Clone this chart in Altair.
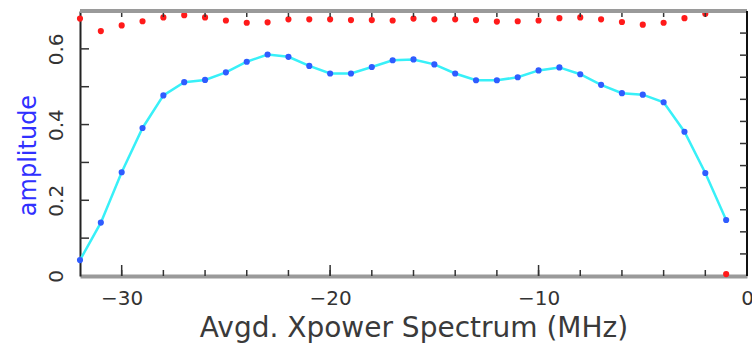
import altair as alt
import pandas as pd

freq = list(range(-32, 0))
amp = [0.042, 0.141, 0.274, 0.391, 0.477, 0.512, 0.518, 0.538, 0.566, 0.585,
       0.579, 0.555, 0.535, 0.535, 0.552, 0.570, 0.572, 0.559, 0.535, 0.517,
       0.517, 0.525, 0.543, 0.551, 0.533, 0.505, 0.483, 0.479, 0.459, 0.381,
       0.272, 0.148]
red = [0.680, 0.647, 0.662, 0.673, 0.683, 0.689, 0.683, 0.675, 0.669, 0.670,
       0.678, 0.678, 0.678, 0.676, 0.676, 0.675, 0.680, 0.678, 0.678, 0.676,
       0.672, 0.673, 0.675, 0.681, 0.683, 0.678, 0.671, 0.664, 0.669, 0.681,
       0.693, 0.005]

x_labels = [-30, -20, -10, 0]
x_minor = [-30, -28, -26, -24, -22, -20, -18, -16, -14, -12, -10, -8, -6, -4, -2]
x_major = [-30, -20, -10]
y_labels = [0, 0.2, 0.4, 0.6]
y_minor = [0.1, 0.2, 0.3, 0.4, 0.5, 0.6]
phase_ticks = [-150, -120, -90, -60, -30, 0, 30, 60, 90, 120, 150]

W, H = 667, 265
FONT = "DejaVu Sans"

df = pd.DataFrame({"freq": freq, "amp": amp, "red": red})
xscale = alt.Scale(domain=[-32, 0], nice=False, zero=False)
yscale = alt.Scale(domain=[0, 0.7], nice=False, zero=False)

xaxis = alt.Axis(values=x_labels, ticks=False, grid=False, domain=True,
                 domainColor="#9a9a9a", domainWidth=4, labelFontSize=20,
                 labelColor="#333333", labelPadding=12, labelFont=FONT,
                 title="Avgd. Xpower Spectrum (MHz)", titleFont=FONT,
                 titleFontSize=28, titleFontWeight="normal", titleColor="#3a3a3a",
                 titlePadding=6, labelFlush=False, format="d")
yaxis = alt.Axis(values=y_labels, ticks=False, grid=False, domain=True,
                 domainColor="#222222", domainWidth=2, labelFontSize=20,
                 labelColor="#333333", labelPadding=14, labelAngle=270,
                 labelAlign="center", labelBaseline="bottom", labelFont=FONT,
                 title="amplitude", titleFont=FONT, titleFontSize=24,
                 titleFontWeight="normal", titleColor="#3030ff", titlePadding=6,
                 titleY=144,
                 labelFlush=False, labelExpr="datum.value == 0 ? '0' : format(datum.value, '.1f')")

line = alt.Chart(df).mark_line(color="#38f0f8", strokeWidth=2.5).encode(
    x=alt.X("freq:Q", scale=xscale, axis=xaxis),
    y=alt.Y("amp:Q", scale=yscale, axis=yaxis),
)
pts = alt.Chart(df).mark_circle(color="#2f5cff", size=38, opacity=1).encode(
    x=alt.X("freq:Q", scale=xscale), y=alt.Y("amp:Q", scale=yscale))
rpts = alt.Chart(df).mark_circle(color="#ff1a1a", size=38, opacity=1).encode(
    x=alt.X("freq:Q", scale=xscale), y=alt.Y("red:Q", scale=yscale))

top_line = alt.Chart(pd.DataFrame({"a": [0]})).mark_rule(color="#9a9a9a", strokeWidth=4).encode(
    x=alt.value(0), x2=alt.value(W), y=alt.value(0))
right_line = alt.Chart(pd.DataFrame({"a": [0]})).mark_rule(color="#111111", strokeWidth=2).encode(
    x=alt.value(W), y=alt.value(0), y2=alt.value(H))

xm = pd.DataFrame({"v": x_minor})
xM = pd.DataFrame({"v": x_major})
bot_minor = alt.Chart(xm).mark_rule(color="#333333", strokeWidth=1.5).encode(
    x=alt.X("v:Q", scale=xscale), y=alt.value(H), y2=alt.value(H - 6))
bot_major = alt.Chart(xM).mark_rule(color="#333333", strokeWidth=1.5).encode(
    x=alt.X("v:Q", scale=xscale), y=alt.value(H), y2=alt.value(H - 11))
top_minor = alt.Chart(xm).mark_rule(color="#333333", strokeWidth=1.5).encode(
    x=alt.X("v:Q", scale=xscale), y=alt.value(0), y2=alt.value(6))
ym = pd.DataFrame({"v": y_minor})
left_ticks = alt.Chart(ym).mark_rule(color="#333333", strokeWidth=1.5).encode(
    y=alt.Y("v:Q", scale=yscale), x=alt.value(0), x2=alt.value(9))

amp_layer = alt.layer(line, pts, rpts, bot_minor, bot_major, top_minor, left_ticks,
                      top_line, right_line)

ph = pd.DataFrame({"p": phase_ticks})
right_ticks = alt.Chart(ph).mark_rule(color="#333333", strokeWidth=1.5).encode(
    y=alt.Y("p:Q", scale=alt.Scale(domain=[-180, 180], nice=False), axis=None),
    x=alt.value(W), x2=alt.value(W - 7))

chart = alt.layer(amp_layer, right_ticks).resolve_scale(y="independent").properties(
    width=W, height=H,
    autosize=alt.AutoSizeParams(type="none"),
    padding={"left": 80, "top": 11, "right": 5, "bottom": 76},
).configure_view(stroke=None).configure(background="white")

chart.save("out.html", embed_options={"renderer": "svg", "actions": False})
